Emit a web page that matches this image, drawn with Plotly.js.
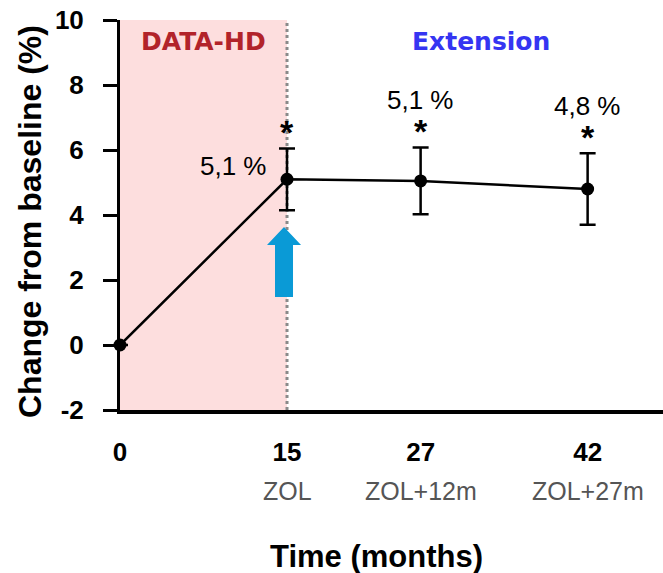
<!DOCTYPE html>
<html>
<head>
<meta charset="utf-8">
<script src="https://cdn.plot.ly/plotly-3.0.1.min.js"></script>
<style>html,body{margin:0;padding:0;background:#fff;}#chart{width:663px;height:573px;}</style>
</head>
<body>
<div id="chart"></div>
<script>
// ---- data ----
const months = [0, 15, 27, 42];
const tickNumbers = ["0", "15", "27", "42"];
const tickSubLabels = ["", "ZOL", "ZOL+12m", "ZOL+27m"];
const meanChange = [0, 5.1, 5.05, 4.8];
const errorSD = [0, 0.95, 1.03, 1.1];
const pointLabels = ["", "5,1 %", "5,1 %", "4,8 %"];
const significance = ["", "*", "*", "*"];
const phaseNames = ["DATA-HD", "Extension"];
const phaseStart = [0, 15];
const phaseEnd = [15, 48.77];
const yTicks = [-2, 0, 2, 4, 6, 8, 10];

const FONT = "Liberation Sans, Arial, sans-serif";

const trace = {
  x: months, y: meanChange, type: "scatter", mode: "lines+markers",
  line: {color: "#000", width: 2.5},
  marker: {color: "#000", size: 13, symbol: "circle"},
  error_y: {type: "data", array: errorSD, visible: true, color: "#000", thickness: 2.5, width: 8},
  hoverinfo: "skip", showlegend: false, cliponaxis: false
};

const annotations = [];
// x tick sub labels
months.forEach((m, i) => {
  if (tickSubLabels[i]) annotations.push({
    x: m, xref: "x", y: 0, yref: "paper", yanchor: "middle", yshift: -81,
    text: tickSubLabels[i], showarrow: false,
    font: {family: FONT, size: 25, color: "#555"}
  });
});
// point labels and asterisks
months.forEach((m, i) => {
  if (significance[i]) annotations.push({
    x: m, y: meanChange[i] + errorSD[i], xref: "x", yref: "y", yanchor: "bottom", yshift: -5,
    text: "<b>" + significance[i] + "</b>", showarrow: false,
    font: {family: FONT, size: 34, color: "#000"}
  });
  if (!pointLabels[i]) return;
  if (i === 1) {
    annotations.push({
      x: m, y: meanChange[i], xref: "x", yref: "y", xanchor: "right", yanchor: "middle",
      xshift: -18, yshift: 13, text: pointLabels[i], showarrow: false,
      font: {family: FONT, size: 26, color: "#000"}
    });
  } else {
    annotations.push({
      x: m, y: meanChange[i] + errorSD[i], xref: "x", yref: "y", xanchor: "center", yanchor: "bottom",
      yshift: 30, text: pointLabels[i], showarrow: false,
      font: {family: FONT, size: 26, color: "#000"}
    });
  }
});
// phase names
const phaseColors = ["#B2232A", "#3535F2"];
phaseNames.forEach((p, i) => {
  annotations.push({
    x: (phaseStart[i] + phaseEnd[i]) / 2, xref: "x", y: 1, yref: "paper", yanchor: "middle", yshift: -21,
    xshift: i === 0 ? 0 : 6,
    text: "<b>" + p + "</b>", showarrow: false,
    font: {family: "DejaVu Sans, sans-serif", size: 25, color: phaseColors[i]}
  });
});
// axis titles
annotations.push({
  x: 0, xref: "paper", xshift: -90, y: 0.482, yref: "paper", xanchor: "center", yanchor: "middle",
  text: "<b>Change from baseline (%)</b>", textangle: -90, showarrow: false,
  font: {family: FONT, size: 32, color: "#000"}
});
annotations.push({
  x: 0.473, xref: "paper", y: 0, yref: "paper", xanchor: "center", yanchor: "middle", yshift: -146,
  text: "<b>Time (months)</b>", showarrow: false,
  font: {family: FONT, size: 31, color: "#000"}
});

const shapes = [
  {type: "rect", xref: "x", yref: "y", x0: phaseStart[0], x1: phaseEnd[0], y0: -2, y1: 10,
   fillcolor: "#FDDEDE", line: {width: 0}, layer: "below"},
  {type: "line", xref: "x", yref: "y", x0: phaseEnd[0], x1: phaseEnd[0], y0: -2, y1: 10,
   line: {color: "#8a8a8a", width: 3, dash: "dot"}, layer: "below"},
  // x tick at 0 below the axis
  {type: "line", xref: "x", yref: "y", x0: 0, x1: 0, ysizemode: "pixel", yanchor: -2, y0: 0, y1: -16,
   line: {color: "#000", width: 3}},
  // blue arrow pointing to ZOL start
  {type: "path", xref: "x", yref: "y", xsizemode: "pixel", ysizemode: "pixel", xanchor: phaseEnd[0], yanchor: 0,
   path: "M -12 48 L 6 48 L 6 100 L 14 100 L -3 118 L -20 100 L -12 100 Z",
   fillcolor: "#0A9AD6", line: {width: 0}}
];

const layout = {
  width: 663, height: 573,
  margin: {l: 120, r: 0, t: 20, b: 163, pad: 0},
  paper_bgcolor: "#fff", plot_bgcolor: "rgba(0,0,0,0)",
  showlegend: false,
  font: {family: FONT, color: "#000"},
  xaxis: {
    range: [0, 48.77], tickmode: "array", tickvals: months, ticktext: tickNumbers,
    ticks: "", showgrid: false, zeroline: false, showline: true, linecolor: "#000", linewidth: 4,
    tickfont: {family: FONT, size: 26, color: "#000", weight: "bold"}, ticklabelstandoff: 16
  },
  yaxis: {
    range: [-2, 10], tickmode: "array", tickvals: yTicks, ticktext: yTicks.map(String),
    ticks: "outside", ticklen: 14, tickwidth: 3, tickcolor: "#000",
    showgrid: false, zeroline: false, showline: true, linecolor: "#000", linewidth: 3,
    tickfont: {family: FONT, size: 26, color: "#000", weight: "bold"}, ticklabelstandoff: 14
  },
  annotations: annotations,
  shapes: shapes
};

Plotly.newPlot("chart", [trace], layout, {displayModeBar: false, staticPlot: true});
</script>
</body>
</html>
